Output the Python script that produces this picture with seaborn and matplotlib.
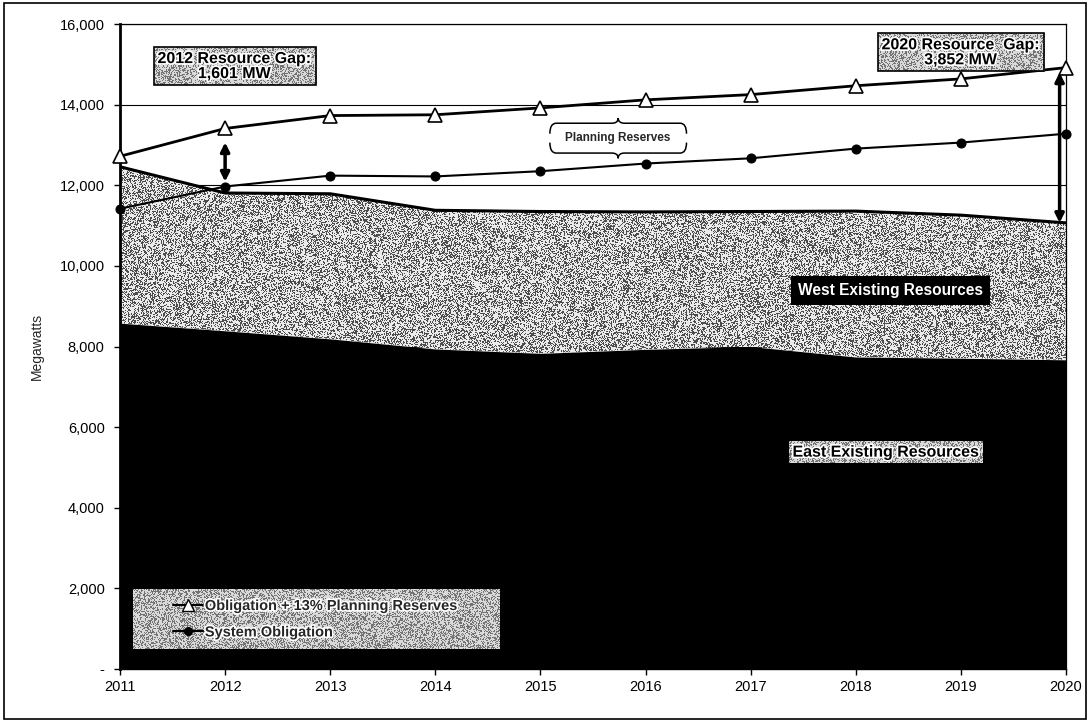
import numpy as np
import pandas as pd
import matplotlib
matplotlib.use("Agg")
import matplotlib.pyplot as plt
import matplotlib.patheffects as pe
from matplotlib.patches import Polygon, Rectangle, PathPatch
from matplotlib.path import Path
from matplotlib.lines import Line2D
import seaborn as sns

# ---- data (MW) ----
years = [2011, 2012, 2013, 2014, 2015, 2016, 2017, 2018, 2019, 2020]
obligation_plus_reserves = [12720, 13410, 13730, 13750, 13920, 14120, 14250, 14470, 14640, 14920]
system_obligation = [11420, 11970, 12240, 12220, 12350, 12540, 12670, 12910, 13060, 13280]
total_existing = [12460, 11809, 11790, 11380, 11350, 11340, 11350, 11360, 11260, 11068]
east_existing = [8580, 8390, 8190, 7940, 7830, 7930, 8000, 7740, 7710, 7670]
y_ticks = [0, 2000, 4000, 6000, 8000, 10000, 12000, 14000, 16000]

gap_2012 = obligation_plus_reserves[1] - total_existing[1]
gap_2020 = obligation_plus_reserves[-1] - total_existing[-1]

sns.set_style("white")
plt.rcParams["font.family"] = ["Liberation Sans", "DejaVu Sans"]

rng = np.random.default_rng(7)


def stipple(shape, dark=0.3, light=0.92, share=0.4):
    """Speckled grey screen, like a halftone fill."""
    return np.where(rng.random(shape) < share, dark, light)


fig = plt.figure(figsize=(10.91, 7.23), dpi=100)
ax = fig.add_axes([0.110, 0.0747, 0.867, 0.892])
ax.set_xlim(years[0], years[-1])
ax.set_ylim(0, 16000)

# horizontal grid lines sit beneath the resource areas
for yv in y_ticks[1:]:
    ax.axhline(yv, color="black", lw=0.8, zorder=0.5)

# stippled texture for the West resources band
im = ax.imshow(stipple((650, 950)), extent=[years[0], years[-1], 0, 16000], aspect="auto",
               cmap="gray", vmin=0, vmax=1, interpolation="nearest", zorder=1)
band = Polygon(list(zip(years, total_existing)) + list(zip(years[::-1], east_existing[::-1])),
               closed=True, facecolor="none", edgecolor="none", transform=ax.transData)
ax.add_patch(band)
im.set_clip_path(band)

# East resources (solid black)
ax.fill_between(years, 0, east_existing, color="black", lw=0, zorder=2)
ax.plot(years, total_existing, color="black", lw=2.2, zorder=3)

# obligation lines
sns.lineplot(x=years, y=obligation_plus_reserves, ax=ax, color="black", lw=2,
             marker="^", markersize=10, markerfacecolor="white", markeredgecolor="black",
             markeredgewidth=1.2, clip_on=False, zorder=5, legend=False)
sns.lineplot(x=years, y=system_obligation, ax=ax, color="black", lw=1.5,
             marker="o", markersize=6.5, markerfacecolor="black", markeredgecolor="black",
             clip_on=False, zorder=5, legend=False)

# axes styling
for side in ["top", "right"]:
    ax.spines[side].set_visible(True)
    ax.spines[side].set_linewidth(0.9)
    ax.spines[side].set_color("black")
ax.spines["left"].set_linewidth(2)
ax.spines["left"].set_color("black")
ax.spines["bottom"].set_linewidth(1)
ax.spines["bottom"].set_color("black")
ax.set_xticks(years)
ax.set_xticklabels([str(y) for y in years], fontsize=10.5)
ax.set_yticks(y_ticks)
ax.set_yticklabels(["-" if v == 0 else f"{v:,}" for v in y_ticks], fontsize=10.5)
ax.tick_params(axis="y", direction="out", length=4, width=1, pad=7, colors="black", left=True)
ax.tick_params(axis="x", direction="out", length=4, width=1, pad=4, colors="black", bottom=True)
ax.set_ylabel("Megawatts", fontsize=10, labelpad=11)

halo = [pe.withStroke(linewidth=2.4, foreground="white")]
grey_boxes = []

# resource gap callouts
t1 = ax.text(2012.09, 14958, f"2012 Resource Gap:\n{gap_2012:,} MW", ha="center", va="center",
             fontsize=11.5, fontweight="bold", color="black", linespacing=1.0, path_effects=halo,
             bbox=dict(boxstyle="square,pad=0.25", facecolor="none", edgecolor="black", lw=1.2),
             zorder=7)
t2 = ax.text(2019.0, 15300, f"2020 Resource  Gap:\n{gap_2020:,} MW", ha="center", va="center",
             fontsize=11.5, fontweight="bold", color="black", linespacing=1.0, path_effects=halo,
             bbox=dict(boxstyle="square,pad=0.25", facecolor="none", edgecolor="black", lw=1.2),
             zorder=7)
grey_boxes += [t1, t2]

# double-headed gap arrows
ax.annotate("", xy=(2012, obligation_plus_reserves[1]), xytext=(2012, system_obligation[1]),
            arrowprops=dict(arrowstyle="<|-|>", color="black", lw=2.5, mutation_scale=13,
                            shrinkA=3.5, shrinkB=10), zorder=6)
ax.annotate("", xy=(2019.94, obligation_plus_reserves[-1]), xytext=(2019.94, total_existing[-1]),
            arrowprops=dict(arrowstyle="<|-|>", color="black", lw=2.5, mutation_scale=13,
                            shrinkA=0, shrinkB=3.5), zorder=6)

# "Planning Reserves" brace label
bx0, bx1, bxc = 2015.09, 2016.39, 2015.74
by_top, by_bot = 13540, 12800
dy = 260
dx = 0.06
verts = [
    (bx0, by_top - dy), (bx0, by_top), (bx0 + dx, by_top),
    (bxc - dx, by_top), (bxc, by_top), (bxc, by_top + dy * 0.5),
    (bxc, by_top), (bxc + dx, by_top),
    (bx1 - dx, by_top), (bx1, by_top), (bx1, by_top - dy),
]
codes = [Path.MOVETO, Path.CURVE3, Path.CURVE3, Path.LINETO, Path.CURVE3, Path.CURVE3,
         Path.CURVE3, Path.CURVE3, Path.LINETO, Path.CURVE3, Path.CURVE3]
ax.add_patch(PathPatch(Path(verts, codes), fill=False, lw=1.1, ec="black", zorder=6))
verts_b = [(x, by_bot + (by_top - y)) for x, y in verts]
ax.add_patch(PathPatch(Path(verts_b, codes), fill=False, lw=1.1, ec="black", zorder=6))
ax.text(bxc, (by_top + by_bot) / 2, "Planning Reserves", ha="center", va="center",
        fontsize=8.5, fontweight="bold", zorder=6)

# area labels
ax.text(2018.33, 9400, "West Existing Resources", ha="center", va="center", fontsize=11.2,
        fontweight="bold", color="white",
        bbox=dict(boxstyle="square,pad=0.45", facecolor="black", edgecolor="none"), zorder=6)
t3 = ax.text(2018.29, 5380, "East Existing Resources", ha="center", va="center", fontsize=11.5,
             fontweight="bold", color="black", path_effects=halo,
             bbox=dict(boxstyle="square,pad=0.2", facecolor="none", edgecolor="none"), zorder=7)
grey_boxes.append(t3)

# legend on a stippled panel
panel_ax = (0.0137, 0.031, 0.387, 0.092)
handles = [
    Line2D([], [], color="black", lw=1.5, marker="^", markersize=8,
           markerfacecolor="white", markeredgecolor="black"),
    Line2D([], [], color="black", lw=1.5, marker="o", markersize=5.5,
           markerfacecolor="black"),
]
leg = ax.legend(handles, ["Obligation + 13% Planning Reserves", "System Obligation"],
                loc="lower left", bbox_to_anchor=(0.045, 0.030), frameon=False,
                prop=dict(size=10.5, weight="bold"), handlelength=2.1, handletextpad=0.1,
                labelspacing=0.85, borderpad=0.2)
leg.set_zorder(8)
for t in leg.get_texts():
    t.set_path_effects(halo)

# stippled fills behind the grey callout boxes and the legend panel
fig.canvas.draw()
inv = ax.transData.inverted()
rects = []
for t in grey_boxes:
    bb = t.get_bbox_patch().get_window_extent()
    (x0, y0), (x1, y1) = inv.transform([(bb.x0, bb.y0), (bb.x1, bb.y1)])
    rects.append((x0, x1, y0, y1, int(bb.width), int(bb.height)))
px0, py0 = ax.transAxes.transform((panel_ax[0], panel_ax[1]))
px1, py1 = ax.transAxes.transform((panel_ax[0] + panel_ax[2], panel_ax[1] + panel_ax[3]))
(x0, y0), (x1, y1) = inv.transform([(px0, py0), (px1, py1)])
rects.append((x0, x1, y0, y1, int(px1 - px0), int(py1 - py0)))
for x0, x1, y0, y1, w, h in rects:
    ax.imshow(stipple((max(h, 2), max(w, 2)), dark=0.45, light=0.85, share=0.4),
              extent=[x0, x1, y0, y1], aspect="auto",
              cmap="gray", vmin=0, vmax=1, interpolation="nearest", zorder=6.5)
ax.set_xlim(years[0], years[-1])
ax.set_ylim(0, 16000)

# outer frame
fig.patches.append(Rectangle((0.004, 0.006), 0.991, 0.99, transform=fig.transFigure,
                             fill=False, lw=1.2, ec="black"))

fig.savefig("out.png", dpi=100)
